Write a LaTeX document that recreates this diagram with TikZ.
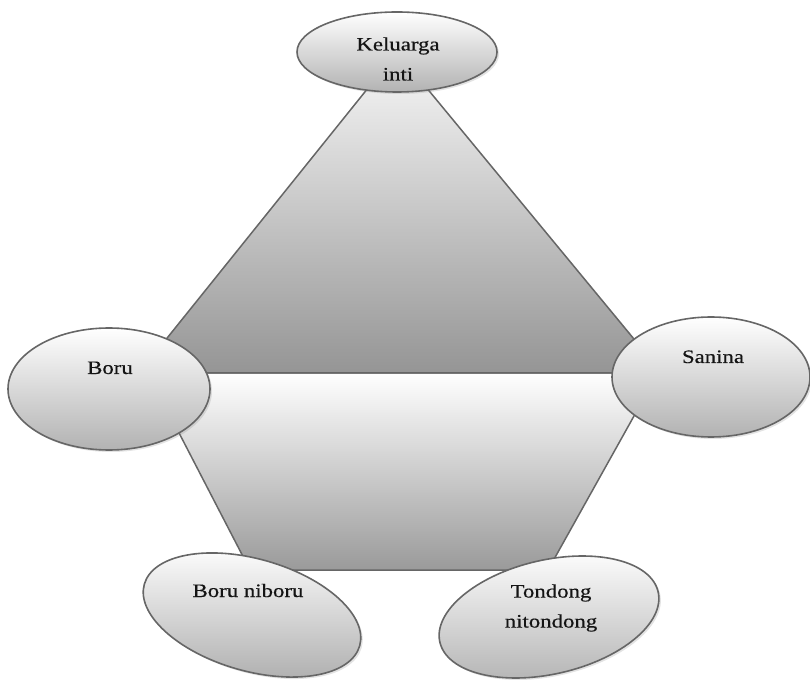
\documentclass[tikz,border=0pt]{standalone}
\usepackage{fontspec}
\setmainfont[FakeStretch=1.2,FakeBold=0.4]{Liberation Serif}
\usetikzlibrary{shapes.geometric,shadows,calc}

\definecolor{edgegray}{HTML}{666666}
\definecolor{ovaltop}{HTML}{FFFFFF}
\definecolor{ovalmid}{HTML}{EDEDED}
\definecolor{ovalbot}{HTML}{B2B2B2}
\definecolor{tritop}{HTML}{F8F8F8}
\definecolor{trimid}{HTML}{D2D2D2}
\definecolor{tribot}{HTML}{959595}
\definecolor{traptop}{HTML}{FFFFFF}
\definecolor{trapmid}{HTML}{E6E6E6}
\definecolor{trapbot}{HTML}{9A9A9A}
\definecolor{inktext}{HTML}{141414}

\tikzset{
  oval/.style={ellipse, draw=edgegray, line width=1.6pt, inner sep=0pt,
    top color=ovaltop, middle color=ovalmid, bottom color=ovalbot,
    drop shadow={opacity=0.22, shadow xshift=2pt, shadow yshift=-2pt}},
  caption/.style={font=\fontsize{19}{30}\selectfont, text=inktext, align=center, inner sep=0pt},
  plate/.style={draw=edgegray, line width=1.5pt, line join=round}
}

\begin{document}
\begin{tikzpicture}[x=1pt,y=1pt]
  \useasboundingbox (0,0) rectangle (810,680);

  % corner points of the two plates
  \coordinate (apex) at (397,628);
  \coordinate (tl) at (139,307);
  \coordinate (tr) at (662,307);
  \coordinate (ul) at (148,307);
  \coordinate (ur) at (658,307);
  \coordinate (ll) at (250,110);
  \coordinate (lr) at (548,110);

  % lower trapezoid, white fading to grey
  \path[plate, top color=traptop, middle color=trapmid, bottom color=trapbot]
    (ul) -- (ur) -- (lr) -- (ll) -- cycle;
  % upper triangle
  \path[plate, top color=tritop, middle color=trimid, bottom color=tribot]
    (apex) -- (tr) -- (tl) -- cycle;

  % ovals
  \node[oval, minimum width=200pt, minimum height=80pt] (kel) at (397,628) {};
  \node[oval, minimum width=202pt, minimum height=122pt] (boru) at (109,291) {};
  \node[oval, minimum width=198pt, minimum height=120pt] (san) at (711,303) {};
  \node[oval, minimum width=224pt, minimum height=112pt, rotate=-16] (bnb) at (252,65) {};
  \node[oval, minimum width=224pt, minimum height=114pt, rotate=13] (ton) at (549,63) {};

  % captions
  \node[caption] (kelT) at ($(kel.center)+(1,-7)$) {Keluarga\\inti};
  \node[caption, anchor=base] (boruT) at (110,306) {Boru};
  \node[caption, anchor=base] (sanT) at (713,317) {Sanina};
  \node[caption, anchor=base] (bnbT) at (248,83) {Boru niboru};
  \node[caption] (tonT) at (551,72) {Tondong\\nitondong};
\end{tikzpicture}
\end{document}
